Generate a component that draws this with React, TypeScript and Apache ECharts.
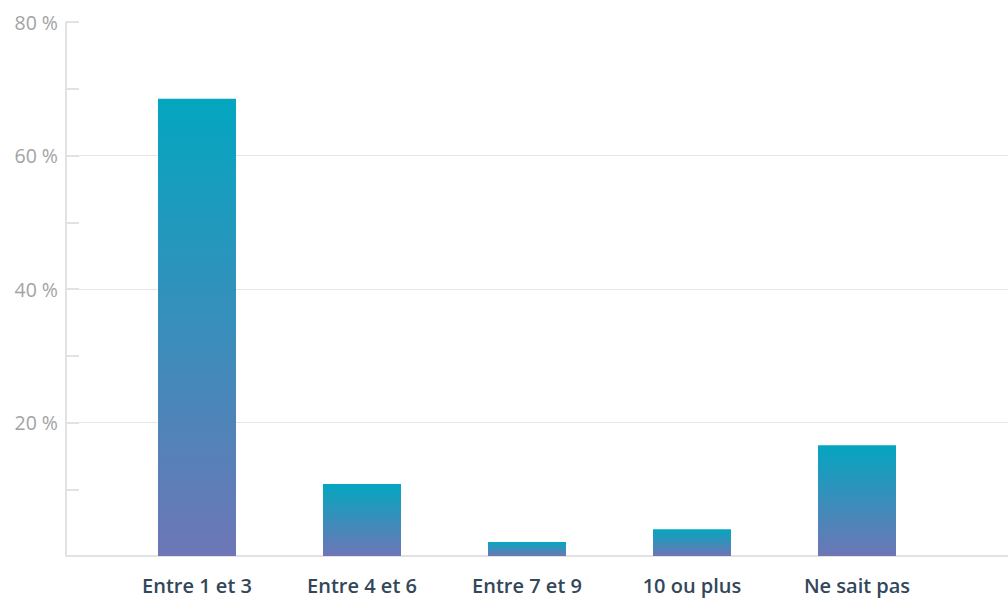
import React, { useEffect, useRef } from "react";
import * as echarts from "echarts";

const categories = ["Entre 1 et 3", "Entre 4 et 6", "Entre 7 et 9", "10 ou plus", "Ne sait pas"];
const shares = [68.5, 10.8, 2.1, 4.0, 16.6];
const yMax = 80;
const yStep = 20;

const barGradient = new echarts.graphic.LinearGradient(0, 0, 0, 1, [
  { offset: 0, color: "#04a6c0" },
  { offset: 1, color: "#6e76b6" },
]);

export default function App() {
  const ref = useRef<HTMLDivElement>(null);

  useEffect(() => {
    if (!ref.current) return;
    const chart = echarts.init(ref.current, null, { renderer: "svg" });
    chart.setOption({
      animation: false,
      grid: [
        { left: 66, right: 0, top: 22, bottom: 42 },
        { left: 114.5, right: 68.5, top: 22, bottom: 42 },
      ],
      xAxis: [
        {
          type: "value",
          gridIndex: 0,
          min: 0,
          max: 1,
          axisLine: { show: true, lineStyle: { color: "#e2e2e2", width: 2 } },
          axisTick: { show: false },
          axisLabel: { show: false },
          splitLine: { show: false },
        },
        {
          type: "category",
          gridIndex: 1,
          data: categories,
          axisLine: { show: false },
          axisTick: { show: false },
          axisLabel: {
            margin: 19,
            color: "#33475b",
            fontFamily: "Open Sans",
            fontWeight: 600,
            fontSize: 20,
          },
        },
      ],
      yAxis: [
        {
          type: "value",
          gridIndex: 0,
          min: 0,
          max: yMax,
          interval: yStep,
          axisLine: { show: true, lineStyle: { color: "#e2e2e2", width: 2 } },
          axisTick: { show: true, inside: true, length: 13, lineStyle: { color: "#e2e2e2", width: 2 } },
          minorTick: { show: true, splitNumber: 2, length: 13, lineStyle: { color: "#e2e2e2", width: 2 } },
          axisLabel: {
            margin: 8,
            color: "#a3a3a3",
            fontFamily: "Open Sans",
            fontWeight: 400,
            fontSize: 19.5,
            formatter: (v: number) => (v === 0 ? "" : `${v} %`),
          },
          splitLine: {
            show: true,
            lineStyle: {
              color: ["#e6e6e6", "#e6e6e6", "#e6e6e6", "#e6e6e6", "rgba(0,0,0,0)"],
              width: 1,
            },
          },
        },
        {
          type: "value",
          gridIndex: 1,
          min: 0,
          max: yMax,
          show: false,
        },
      ],
      series: [
        {
          type: "bar",
          xAxisIndex: 1,
          yAxisIndex: 1,
          data: shares,
          barWidth: 78,
          itemStyle: { color: barGradient },
        },
      ],
    });
    return () => chart.dispose();
  }, []);

  return <div ref={ref} style={{ width: 1008, height: 598, position: "absolute", left: 0, top: 0 }} />;
}
